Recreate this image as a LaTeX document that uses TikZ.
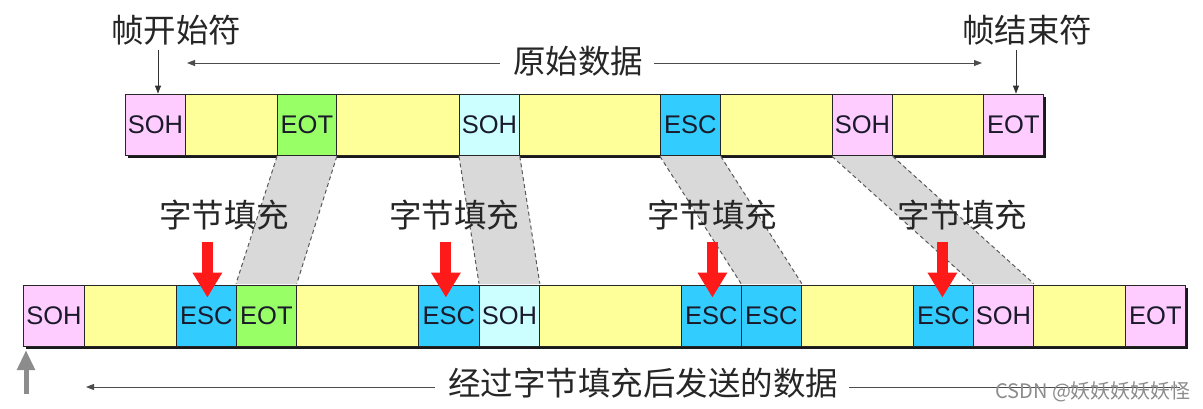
\documentclass[tikz,border=0pt]{standalone}
\usepackage{fontspec}
\setmainfont{Liberation Sans}
\newfontfamily\cjk{Noto Sans CJK SC}
\usetikzlibrary{arrows.meta}
\definecolor{pinkc}{HTML}{FFCCFF}
\definecolor{yelc}{HTML}{FFFF99}
\definecolor{greenc}{HTML}{99FF66}
\definecolor{lcyan}{HTML}{CCFFFF}
\definecolor{escb}{HTML}{33CCFF}
\definecolor{bandc}{HTML}{D9D9D9}
\definecolor{txtc}{HTML}{1A1A2A}
\definecolor{redc}{HTML}{FF1A1A}
\definecolor{grayar}{HTML}{8C8C8C}
\begin{document}
\begin{tikzpicture}[x=1pt,y=-1pt,
  cell/.style={draw=black!85, line width=0.8pt, inner sep=0pt, minimum height=61pt,
    anchor=west, font=\fontsize{25.5}{26}\selectfont, text=txtc},
  cjklabel/.style={font=\cjk\fontsize{32.5}{34}\selectfont, text=black!85, inner sep=1pt},
  shadowbox/.style={fill=black!90, draw=none},
  band/.style={fill=bandc, draw=none},
  banddash/.style={draw=black!65, dashed, dash pattern=on 4pt off 3pt, line width=1pt},
  redarrow/.style={draw=redc, line width=11pt, -{Triangle[width=28pt,length=25pt]}},
  grayarrow/.style={draw=grayar, line width=5pt, -{Triangle[width=17pt,length=20pt,fill=grayar]}},
  thinarrow/.style={draw=black!80, line width=0.9pt, -{Triangle[width=6pt,length=8pt]}},
  spanline/.style={draw=black!70, line width=0.9pt, -{Triangle[width=6pt,length=8pt]}},
  plainline/.style={draw=black!70, line width=0.9pt},
  wmark/.style={font=\cjk\fontsize{20}{20}\selectfont, text=black!45, inner sep=0pt}
]
\useasboundingbox (0,0) rectangle (1203,408);

% shadows
\fill[shadowbox] (128,97) rectangle (1046,158);
\fill[shadowbox] (26,288) rectangle (1188,349);

% top row
\node[cell, fill=pinkc,  minimum width=60pt]  (t1)  at (125,124.5) {SOH};
\node[cell, fill=yelc,   minimum width=92pt]  (t2)  at (185,124.5) {};
\node[cell, fill=greenc, minimum width=59pt]  (t3)  at (277,124.5) {EOT};
\node[cell, fill=yelc,   minimum width=123pt] (t4)  at (336,124.5) {};
\node[cell, fill=lcyan,  minimum width=60pt]  (t5)  at (459,124.5) {SOH};
\node[cell, fill=yelc,   minimum width=141pt] (t6)  at (519,124.5) {};
\node[cell, fill=escb,   minimum width=60pt]  (t7)  at (660,124.5) {ESC};
\node[cell, fill=yelc,   minimum width=112pt] (t8)  at (720,124.5) {};
\node[cell, fill=pinkc,  minimum width=60pt]  (t9)  at (832,124.5) {SOH};
\node[cell, fill=yelc,   minimum width=91pt]  (t10) at (892,124.5) {};
\node[cell, fill=pinkc,  minimum width=60pt]  (t11) at (983,124.5) {EOT};

% bottom row
\node[cell, fill=pinkc,  minimum width=61pt]  (b1)  at (23,315.5) {SOH};
\node[cell, fill=yelc,   minimum width=92pt]  (b2)  at (84,315.5) {};
\node[cell, fill=escb,   minimum width=60pt]  (b3)  at (176,315.5) {ESC};
\node[cell, fill=greenc, minimum width=60pt]  (b4)  at (236,315.5) {EOT};
\node[cell, fill=yelc,   minimum width=122pt] (b5)  at (296,315.5) {};
\node[cell, fill=escb,   minimum width=61pt]  (b6)  at (418,315.5) {ESC};
\node[cell, fill=lcyan,  minimum width=60pt]  (b7)  at (479,315.5) {SOH};
\node[cell, fill=yelc,   minimum width=142pt] (b8)  at (539,315.5) {};
\node[cell, fill=escb,   minimum width=60pt]  (b9)  at (681,315.5) {ESC};
\node[cell, fill=escb,   minimum width=60pt]  (b10) at (741,315.5) {ESC};
\node[cell, fill=yelc,   minimum width=112pt] (b11) at (801,315.5) {};
\node[cell, fill=escb,   minimum width=60pt]  (b12) at (913,315.5) {ESC};
\node[cell, fill=pinkc,  minimum width=60pt]  (b13) at (973,315.5) {SOH};
\node[cell, fill=yelc,   minimum width=92pt]  (b14) at (1033,315.5) {};
\node[cell, fill=pinkc,  minimum width=60pt]  (b15) at (1125,315.5) {EOT};

% bands
\foreach \a/\b in {t3/b4, t5/b7, t7/b10, t9/b13}{
  \fill[band] ([yshift=-0.6pt]\a.south west) -- ([yshift=-0.6pt]\a.south east) -- ([yshift=0.6pt]\b.north east) -- ([yshift=0.6pt]\b.north west) -- cycle;
  \draw[banddash] ([yshift=-1pt]\a.south west) -- ([yshift=1pt]\b.north west);
  \draw[banddash] ([yshift=-1pt]\a.south east) -- ([yshift=1pt]\b.north east);
}

% top labels
\node[cjklabel] (startlbl) at (176,30) {帧开始符};
\node[cjklabel] (endlbl) at (1027,30) {帧结束符};
\node[cjklabel] (datalbl) at (578,61) {原始数据};
\coordinate (dataL) at (187,63);
\coordinate (dataR) at (982,63);
\draw[spanline] ([xshift=-12pt,yshift=-2pt]datalbl.west) -- (dataL);
\draw[spanline] ([xshift=10pt,yshift=-2pt]datalbl.east) -- (dataR);
\coordinate (sa) at (158,50);
\coordinate (ea) at (1016,50);
\draw[thinarrow] (sa) -- (sa |- t1.north);
\draw[thinarrow] (ea) -- (ea |- t11.north);

% stuffing labels and red arrows
\node[cjklabel] (s1) at (224,215) {字节填充};
\node[cjklabel] (s2) at (454,215) {字节填充};
\node[cjklabel] (s3) at (712,215) {字节填充};
\node[cjklabel] (s4) at (962,215) {字节填充};
\foreach \c/\dx in {b3/1, b6/-3, b9/1, b12/-1}{
  \draw[redarrow] ([xshift=\dx pt,yshift=43pt]\c.north) -- ([xshift=\dx pt,yshift=-13pt]\c.north);
}

% bottom
\coordinate (ga) at (26,394);
\coordinate (gt) at (26,350);
\draw[grayarrow] (ga) -- (gt);
\node[cjklabel] (sentlbl) at (643,383) {经过字节填充后发送的数据};
\coordinate (sentL) at (86,387);
\coordinate (sentR) at (1180,387);
\draw[spanline] ([xshift=-12pt,yshift=-4pt]sentlbl.west) -- (sentL);
\draw[plainline] ([xshift=10pt,yshift=-4pt]sentlbl.east) -- (sentR);
\node[wmark, anchor=west] (wm) at (995,392) {CSDN @妖妖妖妖妖怪};
\end{tikzpicture}
\end{document}
